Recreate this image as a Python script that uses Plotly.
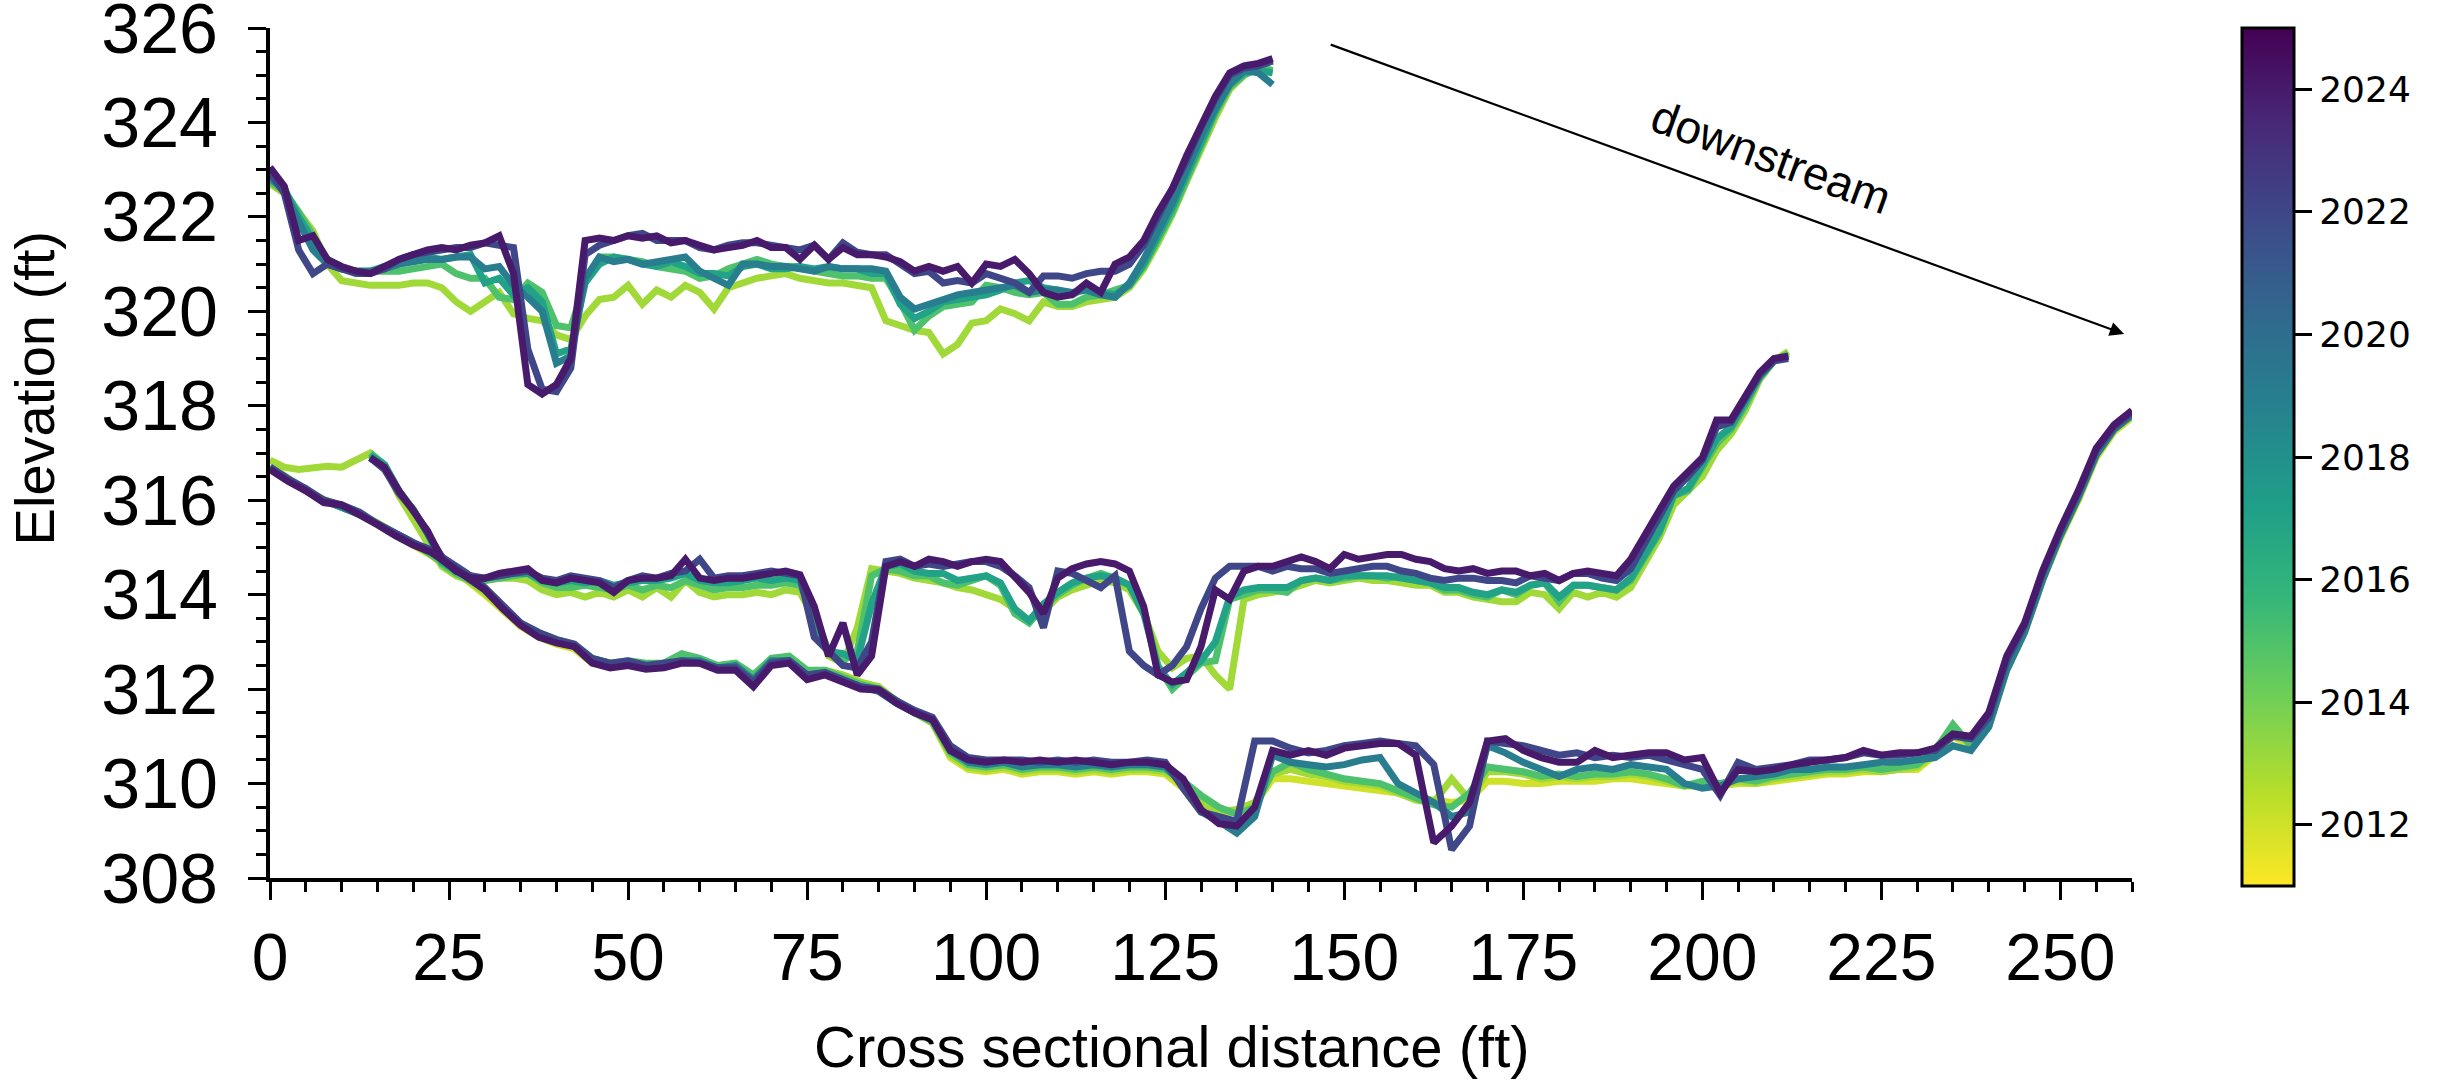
import plotly.graph_objects as go
from plotly.colors import sample_colorscale

# ---------------- data ----------------
# Upper cross section (stations, ft)
XS1_X = [0, 2, 4, 6, 8, 10, 12, 14, 16, 18,
         20, 22, 24, 26, 28, 30, 32, 34, 36, 38,
         40, 42, 44, 46, 48, 50, 52, 54, 56, 58,
         60, 62, 64, 66, 68, 70, 72, 74, 76, 78,
         80, 82, 84, 86, 88, 90, 92, 94, 96, 98,
         100, 102, 104, 106, 108, 110, 112, 114, 116, 118,
         120, 122, 124, 126, 128, 130, 132, 134, 136, 138,
         140]

XS1_2013 = [322.7, 322.5, 322.1, 321.7, 321.0, 320.65, 320.6, 320.55, 320.55, 320.55,
            320.6, 320.6, 320.5, 320.2, 320.0, 320.2, 320.4, 319.95, 319.85, 319.8,
            319.5, 319.4, 319.9, 320.25, 320.3, 320.55, 320.15, 320.45, 320.3, 320.55,
            320.4, 320.05, 320.5, 320.6, 320.7, 320.75, 320.8, 320.7, 320.65, 320.6,
            320.6, 320.55, 320.5, 319.8, 319.7, 319.6, 319.55, 319.1, 319.3, 319.75,
            319.8, 320.05, 319.95, 319.8, 320.2, 320.1, 320.1, 320.2, 320.25, 320.3,
            320.5, 320.9, 321.45, 322.05, 322.75, 323.45, 324.1, 324.7, 325.0, 325.15,
            325.1]
XS1_2015 = [322.75, 322.55, 322.1, 321.6, 321.1, 320.9, 320.85, 320.85, 320.85, 320.85,
            320.9, 320.95, 321.0, 320.8, 320.7, 320.7, 320.3, 320.25, 320.6, 320.4,
            319.7, 319.65, 320.6, 321.15, 321.15, 321.1, 321.05, 320.95, 320.9, 320.85,
            320.7, 320.75, 320.9, 321.0, 321.1, 321.0, 320.95, 320.95, 320.85, 320.8,
            320.75, 320.75, 320.7, 320.7, 320.2, 319.6, 319.9, 320.1, 320.15, 320.2,
            320.55, 320.5, 320.4, 320.35, 320.4, 320.15, 320.15, 320.3, 320.35, 320.45,
            320.55, 320.95, 321.5, 322.1, 322.8, 323.5, 324.2, 324.75, 325.0, 325.15,
            325.1]
XS1_2017 = [322.8, 322.6, 322.0, 321.5, 321.0, 320.9, 320.85, 320.85, 320.95, 321.0,
            321.1, 321.15, 321.1, 321.15, 321.2, 320.6, 320.7, 320.35, 320.5, 320.2,
            319.1, 319.2, 320.6, 321.0, 321.15, 321.1, 321.0, 320.95, 321.05, 320.95,
            320.8, 320.8, 320.75, 320.95, 321.0, 320.9, 320.9, 320.95, 320.9, 320.95,
            320.9, 320.9, 320.8, 320.8, 320.15, 319.85, 320.0, 320.2, 320.25, 320.3,
            320.35, 320.45, 320.6, 320.65, 320.5, 320.45, 320.35, 320.5, 320.4, 320.35,
            320.55, 321.0, 321.6, 322.2, 322.9, 323.6, 324.25, 324.8, 325.05, 325.1,
            325.05]
XS1_2019 = [322.85, 322.55, 321.9, 321.3, 321.0, 320.9, 320.85, 320.85, 320.9, 321.0,
            321.05, 321.1, 321.1, 321.15, 321.15, 320.9, 320.95, 320.55, 320.3, 320.0,
            318.9, 319.05, 320.7, 321.15, 321.05, 321.1, 321.0, 321.05, 321.1, 321.15,
            320.85, 320.7, 320.55, 321.0, 321.0, 320.95, 320.95, 320.9, 320.85, 320.95,
            320.9, 320.9, 320.9, 320.85, 320.3, 320.05, 320.15, 320.25, 320.35, 320.4,
            320.45, 320.5, 320.55, 320.4, 320.45, 320.45, 320.4, 320.45, 320.35, 320.3,
            320.6, 321.1, 321.7, 322.3, 323.0, 323.7, 324.3, 324.8, 325.1, 325.05,
            324.8]
XS1_2022 = [322.95, 322.5, 321.3, 320.8, 321.0, 320.9, 320.8, 320.8, 320.9, 321.1,
            321.2, 321.25, 321.3, 321.35, 321.35, 321.45, 321.4, 321.35, 319.2, 318.35,
            318.3, 318.8, 321.2, 321.4, 321.5, 321.6, 321.65, 321.5, 321.5, 321.5,
            321.35, 321.3, 321.4, 321.45, 321.45, 321.4, 321.35, 321.3, 321.4, 321.1,
            321.45, 321.25, 321.2, 321.2, 321.0, 320.8, 320.85, 320.6, 320.65, 320.6,
            320.8, 320.7, 320.6, 320.4, 320.75, 320.75, 320.7, 320.8, 320.85, 320.85,
            321.0, 321.4, 322.0, 322.55, 323.2, 323.9, 324.5, 325.0, 325.15, 325.2,
            325.3]
XS1_2024 = [323.05, 322.65, 321.5, 321.6, 321.1, 320.95, 320.85, 320.8, 320.95, 321.1,
            321.2, 321.3, 321.35, 321.3, 321.4, 321.45, 321.6, 320.8, 318.45, 318.25,
            318.45, 319.0, 321.5, 321.55, 321.5, 321.6, 321.55, 321.6, 321.45, 321.5,
            321.4, 321.3, 321.35, 321.4, 321.5, 321.35, 321.35, 321.1, 321.4, 321.1,
            321.35, 321.2, 321.2, 321.15, 321.05, 320.85, 320.95, 320.85, 320.95, 320.6,
            321.0, 320.95, 321.1, 320.8, 320.4, 320.3, 320.35, 320.6, 320.4, 321.0,
            321.15, 321.5, 322.1, 322.6, 323.3, 323.95, 324.55, 325.05, 325.2, 325.25,
            325.35]

# Middle cross section
XS2_X = [0, 2, 4, 6, 8, 10, 12, 14, 16, 18,
         20, 22, 24, 26, 28, 30, 32, 34, 36, 38,
         40, 42, 44, 46, 48, 50, 52, 54, 56, 58,
         60, 62, 64, 66, 68, 70, 72, 74, 76, 78,
         80, 82, 84, 86, 88, 90, 92, 94, 96, 98,
         100, 102, 104, 106, 108, 110, 112, 114, 116, 118,
         120, 122, 124, 126, 128, 130, 132, 134, 136, 138,
         140, 142, 144, 146, 148, 150, 152, 154, 156, 158,
         160, 162, 164, 166, 168, 170, 172, 174, 176, 178,
         180, 182, 184, 186, 188, 190, 192, 194, 196, 198,
         200, 202, 204, 206, 208, 210, 212]

XS2_2013 = [316.85, 316.7, 316.65, 316.7, 316.72, 316.7, 316.85, 317.0, 316.7, 316.1,
            315.6, 315.1, 314.6, 314.4, 314.3, 314.3, 314.35, 314.35, 314.3, 314.1,
            314.0, 314.05, 313.95, 314.05, 313.95, 314.1, 313.95, 314.15, 313.95, 314.3,
            314.05, 313.95, 314.0, 314.0, 314.05, 314.0, 314.1, 314.05, 313.5, 312.7,
            312.55, 313.3, 314.55, 314.5, 314.45, 314.35, 314.3, 314.25, 314.15, 314.1,
            314.0, 313.9, 313.7, 313.45, 313.65, 313.95, 314.1, 314.2, 314.3, 314.25,
            314.1, 313.6, 312.8, 312.45, 312.65, 312.7, 312.3, 312.0, 313.9, 314.0,
            314.05, 314.1, 314.2, 314.3, 314.25, 314.3, 314.35, 314.3, 314.3, 314.25,
            314.2, 314.2, 314.05, 314.05, 313.95, 313.9, 313.85, 313.85, 314.05, 314.0,
            313.7, 314.05, 313.95, 314.05, 313.95, 314.15, 314.65, 315.2, 315.9, 316.2,
            316.5, 317.05, 317.4, 317.9, 318.55, 318.95, 319.15]
XS2_2015 = [None, None, None, None, None, None, None, 317.0, 316.75, 316.2,
            315.8, 315.3, 314.65, 314.45, 314.3, 314.3, 314.35, 314.4, 314.45, 314.25,
            314.15, 314.15, 314.2, 314.15, 314.1, 314.2, 314.1, 314.2, 314.15, 314.3,
            314.2, 314.1, 314.15, 314.15, 314.2, 314.2, 314.25, 314.2, 313.6, 312.8,
            312.6, 312.8, 314.4, 314.55, 314.5, 314.4, 314.4, 314.25, 314.2, 314.3,
            314.4, 314.2, 313.6, 313.4, 313.75, 314.0, 314.2, 314.35, 314.45, 314.35,
            314.2, 313.7, 312.5, 312.0, 312.3, 312.55, 312.6, 313.9, 314.0, 314.1,
            314.1, 314.05, 314.3, 314.35, 314.3, 314.35, 314.4, 314.4, 314.35, 314.4,
            314.3, 314.25, 314.1, 314.1, 314.0, 313.95, 314.1, 314.0, 314.2, 314.25,
            313.85, 314.2, 314.2, 314.15, 314.1, 314.3, 314.8, 315.3, 316.1, 316.2,
            316.7, 317.2, 317.5, 318.0, 318.6, 318.95, 319.1]
XS2_2017 = [None, None, None, None, None, None, None, 316.95, 316.75, 316.2,
            315.8, 315.3, 314.7, 314.5, 314.35, 314.35, 314.4, 314.45, 314.45, 314.3,
            314.25, 314.3, 314.25, 314.3, 314.2, 314.25, 314.3, 314.3, 314.35, 314.45,
            314.3, 314.25, 314.25, 314.3, 314.35, 314.3, 314.35, 314.3, 313.4, 312.8,
            312.75, 312.6, 313.8, 314.6, 314.65, 314.5, 314.45, 314.45, 314.3, 314.35,
            314.4, 314.25, 313.7, 313.45, 313.8, 314.05, 314.25, 314.35, 314.4, 314.35,
            314.2, 313.6, 312.45, 312.1, 312.35, 312.6, 313.0, 313.95, 314.1, 314.15,
            314.15, 314.15, 314.3, 314.35, 314.3, 314.4, 314.4, 314.4, 314.4, 314.35,
            314.3, 314.25, 314.15, 314.15, 314.05, 314.0, 314.1, 314.05, 314.2, 314.25,
            313.95, 314.2, 314.2, 314.15, 314.1, 314.35, 314.85, 315.35, 316.1, 316.25,
            316.75, 317.3, 317.55, 318.05, 318.6, 318.95, 319.05]
XS2_2022 = [None, None, None, None, None, None, None, 316.9, 316.65, 316.15,
            315.8, 315.3, 314.8, 314.5, 314.4, 314.35, 314.4, 314.45, 314.5, 314.35,
            314.3, 314.4, 314.35, 314.3, 314.15, 314.3, 314.4, 314.35, 314.45, 314.5,
            314.75, 314.35, 314.4, 314.4, 314.45, 314.5, 314.45, 314.4, 313.1, 312.8,
            312.5, 312.45, 313.0, 314.7, 314.75, 314.6, 314.65, 314.6, 314.65, 314.7,
            314.7, 314.6, 314.4, 314.15, 313.3, 314.5, 314.45, 314.3, 314.15, 314.4,
            312.8, 312.5, 312.3, 312.5, 312.9, 313.7, 314.35, 314.6, 314.6, 314.6,
            314.5, 314.6, 314.55, 314.55, 314.45, 314.5, 314.55, 314.6, 314.6, 314.5,
            314.45, 314.35, 314.3, 314.35, 314.35, 314.3, 314.3, 314.25, 314.4, 314.35,
            314.3, 314.45, 314.45, 314.35, 314.3, 314.55, 315.1, 315.65, 316.2, 316.5,
            316.85, 317.55, 317.65, 318.15, 318.65, 318.95, 319.0]
XS2_2024 = [None, None, None, None, None, None, None, 316.9, 316.7, 316.2,
            315.8, 315.35, 314.75, 314.5, 314.35, 314.35, 314.45, 314.5, 314.55, 314.3,
            314.25, 314.35, 314.3, 314.25, 314.05, 314.3, 314.35, 314.35, 314.4, 314.75,
            314.35, 314.3, 314.35, 314.35, 314.4, 314.45, 314.5, 314.42, 313.75, 312.7,
            313.4, 312.3, 312.7, 314.6, 314.7, 314.6, 314.75, 314.7, 314.6, 314.7,
            314.75, 314.7, 314.4, 314.05, 313.6, 314.35, 314.55, 314.65, 314.7, 314.65,
            314.5, 313.75, 312.3, 312.15, 312.2, 312.9, 314.1, 313.9, 314.5, 314.6,
            314.6, 314.7, 314.8, 314.7, 314.55, 314.85, 314.75, 314.8, 314.85, 314.85,
            314.75, 314.7, 314.55, 314.5, 314.55, 314.45, 314.5, 314.5, 314.4, 314.45,
            314.3, 314.45, 314.5, 314.45, 314.4, 314.75, 315.25, 315.75, 316.3, 316.6,
            316.9, 317.7, 317.7, 318.2, 318.7, 319.0, 319.05]

# Lower cross section
XS3_X = [0, 2.5, 5, 7.5, 10, 12.5, 15, 17.5, 20, 22.5,
         25, 27.5, 30, 32.5, 35, 37.5, 40, 42.5, 45, 47.5,
         50, 52.5, 55, 57.5, 60, 62.5, 65, 67.5, 70, 72.5,
         75, 77.5, 80, 82.5, 85, 87.5, 90, 92.5, 95, 97.5,
         100, 102.5, 105, 107.5, 110, 112.5, 115, 117.5, 120, 122.5,
         125, 127.5, 130, 132.5, 135, 137.5, 140, 142.5, 145, 147.5,
         150, 152.5, 155, 157.5, 160, 162.5, 165, 167.5, 170, 172.5,
         175, 177.5, 180, 182.5, 185, 187.5, 190, 192.5, 195, 197.5,
         200, 202.5, 205, 207.5, 210, 212.5, 215, 217.5, 220, 222.5,
         225, 227.5, 230, 232.5, 235, 237.5, 240, 242.5, 245, 247.5,
         250, 252.5, 255, 257.5, 260]

XS3_2012 = [316.68, 316.43, 316.2, 316.0, 315.85, 315.7, 315.48, 315.27, 315.07, 314.83,
            314.55, 314.3, 314.0, 313.65, 313.33, 313.1, 312.95, 312.85, 312.55, 312.48,
            312.55, 312.48, 312.52, 312.65, 312.6, 312.45, 312.48, 312.22, 312.58, 312.65,
            312.35, 312.38, 312.28, 312.1, 312.0, 311.72, 311.48, 311.28, 310.55, 310.3,
            310.25, 310.3, 310.2, 310.25, 310.25, 310.2, 310.25, 310.2, 310.25, 310.25,
            310.2, 309.9, 309.4, 309.35, 309.4, 309.55, 310.1, 310.1, 310.05, 310.0,
            309.95, 309.9, 309.85, 309.8, 309.7, 309.65, 309.6, 309.65, 310.05, 310.05,
            310.0, 310.0, 310.05, 310.05, 310.05, 310.1, 310.1, 310.05, 310.0, 309.95,
            309.95, 309.95, 310.0, 310.0, 310.05, 310.1, 310.15, 310.2, 310.2, 310.25,
            310.25, 310.3, 310.3, 310.6, 311.0, 310.8, 311.2, 312.4, 313.2, 314.3,
            315.2, 316.0, 316.9, 317.45, 317.75]
XS3_2013 = [316.72, 316.47, 316.22, 316.02, 315.87, 315.72, 315.52, 315.3, 315.1, 314.85,
            314.58, 314.33, 314.05, 313.7, 313.38, 313.18, 313.02, 312.92, 312.6, 312.5,
            312.58, 312.5, 312.55, 312.7, 312.62, 312.48, 312.5, 312.25, 312.6, 312.68,
            312.38, 312.4, 312.3, 312.15, 312.05, 311.75, 311.5, 311.3, 310.6, 310.35,
            310.3, 310.35, 310.25, 310.3, 310.3, 310.25, 310.3, 310.25, 310.3, 310.3,
            310.25, 310.0, 309.6, 309.4, 309.45, 309.6, 310.2, 310.3, 310.2, 310.15,
            310.05, 310.0, 309.95, 309.8, 309.65, 309.6, 310.1, 309.65, 310.25, 310.25,
            310.2, 310.1, 310.15, 310.1, 310.15, 310.15, 310.2, 310.15, 310.05, 309.95,
            310.0, 309.95, 310.05, 310.0, 310.1, 310.15, 310.2, 310.25, 310.25, 310.3,
            310.25, 310.3, 310.35, 310.65, 311.1, 310.85, 311.25, 312.45, 313.25, 314.35,
            315.25, 316.05, 316.95, 317.5, 317.8]
XS3_2015 = [316.7, 316.45, 316.22, 316.0, 315.85, 315.7, 315.5, 315.3, 315.1, 314.85,
            314.6, 314.35, 314.1, 313.75, 313.4, 313.2, 313.05, 312.95, 312.65, 312.55,
            312.6, 312.55, 312.55, 312.75, 312.65, 312.5, 312.55, 312.3, 312.65, 312.7,
            312.4, 312.4, 312.25, 312.1, 312.0, 311.75, 311.5, 311.3, 310.65, 310.4,
            310.35, 310.4, 310.3, 310.35, 310.35, 310.3, 310.35, 310.3, 310.35, 310.35,
            310.3, 310.05, 309.75, 309.5, 309.35, 309.5, 310.25, 310.45, 310.3, 310.2,
            310.1, 310.05, 310.0, 309.85, 309.7, 309.55, 309.5, 309.8, 310.35, 310.3,
            310.25, 310.15, 310.2, 310.15, 310.2, 310.2, 310.25, 310.2, 310.1, 309.95,
            310.05, 310.0, 310.1, 310.05, 310.15, 310.2, 310.25, 310.3, 310.3, 310.35,
            310.3, 310.35, 310.4, 310.7, 311.25, 310.8, 311.3, 312.5, 313.3, 314.4,
            315.3, 316.1, 317.0, 317.55, 317.85]
XS3_2019 = [316.7, 316.45, 316.2, 316.0, 315.85, 315.7, 315.5, 315.28, 315.1, 314.9,
            314.65, 314.4, 314.1, 313.72, 313.38, 313.15, 313.0, 312.9, 312.6, 312.5,
            312.55, 312.45, 312.5, 312.6, 312.6, 312.45, 312.5, 312.2, 312.6, 312.6,
            312.3, 312.35, 312.2, 312.05, 311.95, 311.7, 311.5, 311.35, 310.7, 310.45,
            310.4, 310.45, 310.35, 310.4, 310.4, 310.35, 310.4, 310.35, 310.4, 310.4,
            310.35, 310.0, 309.4, 309.2, 308.95, 309.3, 310.6, 310.45, 310.4, 310.35,
            310.4, 310.5, 310.55, 310.0, 309.8, 309.6, 309.3, 309.4, 310.8, 310.65,
            310.45, 310.3, 310.15, 310.3, 310.35, 310.3, 310.4, 310.35, 310.3, 310.0,
            309.9, 309.95, 310.1, 310.15, 310.2, 310.3, 310.3, 310.35, 310.35, 310.4,
            310.45, 310.45, 310.5, 310.55, 310.8, 310.7, 311.2, 312.4, 313.2, 314.3,
            315.25, 316.05, 316.95, 317.5, 317.8]
XS3_2022 = [316.7, 316.45, 316.25, 316.0, 315.9, 315.75, 315.5, 315.3, 315.1, 314.95,
            314.7, 314.45, 314.15, 313.75, 313.4, 313.2, 313.05, 312.95, 312.65, 312.55,
            312.6, 312.5, 312.55, 312.6, 312.55, 312.45, 312.45, 312.15, 312.55, 312.6,
            312.3, 312.35, 312.2, 312.05, 312.0, 311.75, 311.55, 311.4, 310.8, 310.55,
            310.5, 310.5, 310.5, 310.45, 310.5, 310.45, 310.5, 310.45, 310.45, 310.5,
            310.45, 309.9, 309.4, 309.3, 309.2, 310.9, 310.9, 310.75, 310.65, 310.7,
            310.8, 310.85, 310.9, 310.85, 310.8, 310.4, 308.6, 309.1, 310.9, 310.85,
            310.8, 310.7, 310.6, 310.65, 310.55, 310.6, 310.55, 310.6, 310.5, 310.4,
            310.3, 309.75, 310.45, 310.3, 310.35, 310.4, 310.5, 310.5, 310.55, 310.65,
            310.6, 310.6, 310.65, 310.7, 311.0, 310.95, 311.4, 312.6, 313.35, 314.45,
            315.35, 316.15, 317.05, 317.55, 317.85]
XS3_2024 = [316.65, 316.4, 316.2, 315.95, 315.9, 315.7, 315.48, 315.25, 315.05, 314.9,
            314.63, 314.38, 314.1, 313.7, 313.35, 313.1, 312.98, 312.9, 312.55, 312.45,
            312.5, 312.42, 312.45, 312.55, 312.55, 312.4, 312.4, 312.05, 312.5, 312.55,
            312.2, 312.3, 312.15, 312.0, 311.98, 311.7, 311.5, 311.35, 310.7, 310.5,
            310.45, 310.5, 310.45, 310.5, 310.45, 310.5, 310.45, 310.4, 310.45, 310.45,
            310.4, 310.1, 309.45, 309.15, 309.1, 309.5, 310.7, 310.6, 310.7, 310.6,
            310.75, 310.8, 310.85, 310.85, 310.6, 308.75, 309.1, 309.6, 310.9, 310.95,
            310.7, 310.55, 310.45, 310.45, 310.7, 310.55, 310.6, 310.65, 310.65, 310.5,
            310.55, 309.8, 310.3, 310.25, 310.3, 310.4, 310.45, 310.5, 310.55, 310.7,
            310.6, 310.65, 310.65, 310.75, 311.05, 311.0, 311.5, 312.7, 313.4, 314.5,
            315.4, 316.2, 317.1, 317.6, 317.9]

YEAR_MIN, YEAR_MAX = 2011, 2025
CBAR_TICKS = [2012, 2014, 2016, 2018, 2020, 2022, 2024]

SECTIONS = [
    (XS1_X, {2013: XS1_2013, 2015: XS1_2015, 2017: XS1_2017, 2019: XS1_2019,
             2022: XS1_2022, 2024: XS1_2024}),
    (XS2_X, {2013: XS2_2013, 2015: XS2_2015, 2017: XS2_2017, 2022: XS2_2022,
             2024: XS2_2024}),
    (XS3_X, {2012: XS3_2012, 2013: XS3_2013, 2015: XS3_2015, 2019: XS3_2019,
             2022: XS3_2022, 2024: XS3_2024}),
]

# ---------------- figure ----------------
def year_color(yr):
    return sample_colorscale("Viridis_r", [(yr - YEAR_MIN) / (YEAR_MAX - YEAR_MIN)])[0]

fig = go.Figure()
all_years = sorted({yr for _, d in SECTIONS for yr in d})
for yr in all_years:
    for xs, d in SECTIONS:
        if yr in d:
            fig.add_trace(go.Scatter(
                x=xs, y=d[yr], mode="lines",
                line=dict(color=year_color(yr), width=7),
                connectgaps=False, showlegend=False, hoverinfo="skip"))

# colorbar carrier
fig.add_trace(go.Scatter(
    x=[None], y=[None], mode="markers", showlegend=False, hoverinfo="skip",
    marker=dict(color=[YEAR_MIN], colorscale="Viridis_r", cmin=YEAR_MIN, cmax=YEAR_MAX,
                showscale=True,
                colorbar=dict(thickness=52, thicknessmode="pixels",
                              len=858, lenmode="pixels",
                              x=1.059, xanchor="left", xref="paper",
                              y=1, yanchor="top", yref="paper",
                              xpad=0, ypad=0,
                              outlinewidth=3, outlinecolor="black",
                              tickvals=CBAR_TICKS, ticks="outside", ticklen=17,
                              tickwidth=3, tickcolor="black",
                              tickprefix="\u2009",
                              tickfont=dict(family="DejaVu Sans", size=36, color="black")))))

FONT = "Liberation Sans, Arial, sans-serif"
fig.update_layout(
    width=2458, height=1088,
    margin=dict(l=270, r=326, t=28, b=210, autoexpand=False),
    plot_bgcolor="white", paper_bgcolor="white",
    font=dict(family=FONT, color="black"),
    xaxis=dict(range=[0, 260], showgrid=False, zeroline=False, automargin=False,
               showline=True, linecolor="black", linewidth=4,
               ticks="outside", ticklen=18, tickwidth=3, tickcolor="black",
               tick0=0, dtick=25, tickfont=dict(size=66),
               ticklabelstandoff=1, ticklabeloverflow="allow",
               minor=dict(dtick=5, ticks="outside", ticklen=10, tickwidth=2.5,
                          tickcolor="black")),
    yaxis=dict(range=[308, 326], showgrid=False, zeroline=False, automargin=False,
               showline=True, linecolor="black", linewidth=4,
               ticks="outside", ticklen=18, tickwidth=3, tickcolor="black",
               tick0=308, dtick=2, tickfont=dict(size=70),
               ticklabelstandoff=16, ticklabeloverflow="allow",
               minor=dict(dtick=0.5, ticks="outside", ticklen=10, tickwidth=2.5,
                          tickcolor="black")),
    annotations=[
        dict(text="Elevation (ft)", xref="paper", yref="paper", x=0, y=0.576,
             xshift=-236, textangle=-90, showarrow=False,
             xanchor="center", yanchor="middle", font=dict(size=56)),
        dict(text="Cross sectional distance (ft)", xref="paper", yref="paper",
             x=0.4845, y=0, yshift=-168, showarrow=False,
             xanchor="center", yanchor="middle", font=dict(size=58)),
        dict(text="", x=258.9, y=319.52, ax=147.9, ay=325.66,
             xref="x", yref="y", axref="x", ayref="y",
             showarrow=True, arrowhead=2, arrowsize=1.3, arrowwidth=2.2,
             arrowcolor="black"),
        dict(text="downstream", x=209.6, y=323.27, xref="x", yref="y",
             textangle=20, showarrow=False, font=dict(size=46)),
    ],
)

fig.write_html("out.html")
